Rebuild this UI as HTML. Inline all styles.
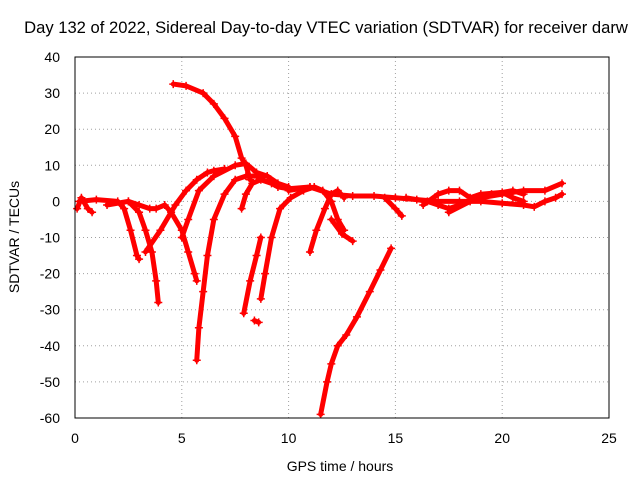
<!DOCTYPE html>
<html><head><meta charset="utf-8"><style>
body{margin:0;background:#fff}
svg text{font-family:"Liberation Sans",sans-serif;font-size:14px;fill:#000}
</style></head><body>
<svg id="c" width="640" height="480">
<text x="326" y="33" text-anchor="middle" style="font-size:16.6px">Day 132 of 2022, Sidereal Day-to-day VTEC variation (SDTVAR) for receiver darw</text>
<text x="340" y="471" text-anchor="middle">GPS time / hours</text>
<text transform="translate(19,237) rotate(-90)" text-anchor="middle">SDTVAR / TECUs</text>
<g id="grid"></g><g id="marks"></g>
<rect x="75" y="57" width="534" height="361" fill="none" stroke="#000"/>
</svg>
<script>
const xTicks=[0,5,10,15,20,25];
const yTicks=[40,30,20,10,0,-10,-20,-30,-40,-50,-60];
const tracks=[
[[0.1,-2],[0.3,1],[0.6,-2],[0.8,-3]],
[[0.2,0],[1,0.5],[2,0],[2.3,-2],[2.6,-8],[2.9,-15],[3,-16]],
[[1.5,-1],[2.5,0],[3,-1],[3.5,-2],[3.8,-2],[4.2,-1],[4.5,-3],[5,-8],[5.3,-14],[5.6,-20],[5.7,-22]],
[[2.5,0],[3,-3],[3.3,-8],[3.6,-14],[3.8,-22],[3.9,-28]],
[[3.3,-14],[4,-8],[4.7,-1],[5.2,3],[5.7,6],[6.2,8],[6.5,8.5],[7,9]],
[[4.6,32.5],[5.2,32],[6,30],[6.5,27],[7,23],[7.5,18],[7.8,12],[8,10],[8.2,6]],
[[5.0,-10],[5.3,-5],[5.8,3],[6.5,7],[7.5,10],[8,10.5],[8.5,8],[9,7]],
[[5.7,-44],[5.8,-35],[6,-25],[6.2,-15],[6.5,-5],[7,2],[7.5,6],[8,7],[8.5,7],[9,7],[9.5,5],[10,4]],
[[7.8,-2],[8,2],[8.3,5],[8.7,6],[9.2,5],[9.5,4],[10,3.5],[11,4]],
[[7.9,-31],[8.2,-22],[8.5,-15],[8.7,-10]],
[[8.4,-33],[8.6,-33.5]],
[[8.7,-27],[8.9,-20],[9.2,-10],[9.6,-2],[10.1,1],[10.7,3],[11.2,4],[11.6,3],[12,0],[12.3,-5],[12.6,-8]],
[[11,-14],[11.3,-8],[11.7,-2],[12,2],[12.3,3],[12.6,1]],
[[11.5,-59],[11.8,-50],[12,-45],[12.3,-40],[12.7,-37],[13.2,-32],[13.8,-25],[14.3,-19],[14.8,-13]],
[[12,-5],[12.5,-9],[13,-11]],
[[10,3],[11,4],[12,2],[13,1.5],[14,1.5],[15,1],[16,0.5],[17,0],[18,0],[19,0],[20,-0.5],[21,-1],[21.5,-1.5],[22,0],[22.5,1],[22.8,2]],
[[14.5,1],[15,-2],[15.3,-4]],
[[15.5,1],[16.5,0],[17,-1],[17.5,-2],[18,-1],[19,1],[20,2],[21,3],[22,3],[22.8,5]],
[[16.3,-1],[17,2],[17.5,3],[18,3],[18.5,1],[19,2],[20,2.5],[20.5,1],[21,0]],
[[17.5,-3],[18.5,0],[19.5,2],[20.5,3],[21,2]]
];
const NS="http://www.w3.org/2000/svg";
const X=v=>75+v*(534/25), Y=v=>57+(40-v)*(361/100);
const grid=document.getElementById('grid'), marks=document.getElementById('marks');
function mk(t,a,p){const e=document.createElementNS(NS,t);for(const k in a)e.setAttribute(k,a[k]);p.appendChild(e);return e;}
xTicks.forEach(v=>{
 if(v>0&&v<25){const l=mk('line',{x1:X(v),x2:X(v),y1:57,y2:418,stroke:'#a0a0a0','stroke-dasharray':'1,3'},grid);
 
 }
 const t=mk('text',{x:X(v),y:443,'text-anchor':'middle'},grid);t.textContent=v;
 
 
});
yTicks.forEach(v=>{
 if(v<40&&v>-60){const l=mk('line',{x1:75,x2:609,y1:Y(v),y2:Y(v),stroke:'#a0a0a0','stroke-dasharray':'1,3'},grid);
 
 }
 const t=mk('text',{x:60,y:Y(v)+5,'text-anchor':'end'},grid);t.textContent=v;
 
 
});
tracks.forEach((tr,i)=>{
 const pl=mk('polyline',{points:tr.map(p=>X(p[0])+','+Y(p[1])).join(' '),fill:'none',stroke:'#f00','stroke-width':5,'stroke-linejoin':'round','stroke-linecap':'round'},marks);
 
 
 tr.forEach(p=>{
  const m=mk('path',{d:`M${X(p[0])-4},${Y(p[1])}h8M${X(p[0])},${Y(p[1])-4}v8`,stroke:'#f00','stroke-width':1.5},marks);
  
  
 });
});
</script>
</body></html>
